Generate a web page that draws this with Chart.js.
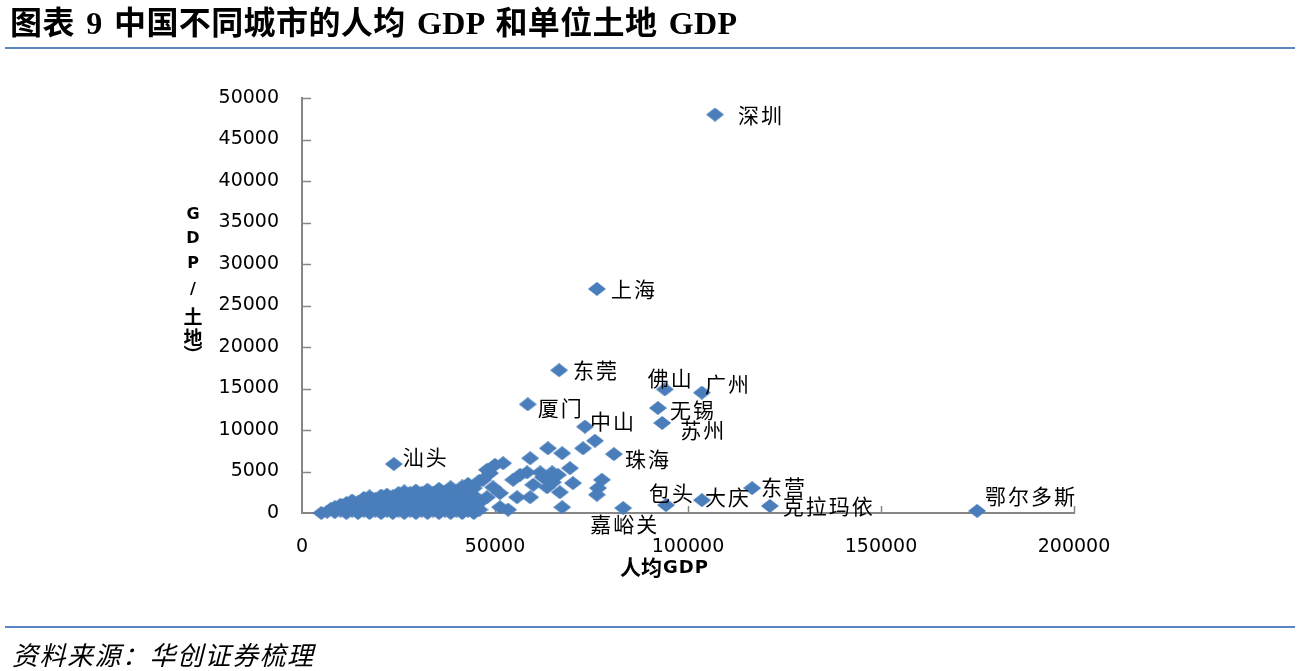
<!DOCTYPE html>
<html><head><meta charset="utf-8">
<script src="https://cdn.jsdelivr.net/npm/chart.js@4.4.0/dist/chart.umd.min.js"></script>
<style>
html,body{margin:0;padding:0;background:#fff;}
#wrap{position:relative;width:1298px;height:671px;overflow:hidden;background:#fff;}
#c{position:absolute;left:0;top:0;}
#title{position:absolute;left:10px;top:5px;font-family:"Liberation Serif","Noto Sans CJK SC";font-weight:bold;font-size:32px;line-height:36px;letter-spacing:0.4px;word-spacing:3px;white-space:nowrap;color:#000;}
.rule{position:absolute;left:5px;width:1290px;height:2px;background:#5A87C0;}
#src{position:absolute;left:12px;top:637px;font-family:"Noto Sans CJK SC";font-style:italic;font-size:26px;line-height:34px;letter-spacing:1.5px;white-space:nowrap;color:#000;}
</style></head>
<body><div id="wrap">
<canvas id="c" width="1298" height="671"></canvas>
<div id="title">图表 9 中国不同城市的人均 GDP 和单位土地 GDP</div>
<div class="rule" style="top:47px"></div>
<div class="rule" style="top:626px"></div>
<div id="src">资料来源：华创证券梳理</div>
</div>
<script>
// ---- data ----
const labeledCities = ['深圳','上海','东莞','厦门','中山','佛山','广州','无锡','苏州','珠海','汕头','包头','大庆','东营','克拉玛依','鄂尔多斯','嘉峪关'];
const labeledGdpPerCapita = [107000, 76400, 66600, 58500, 73300, 94000, 103600, 92200, 93300, 80800, 23800, 94300, 103600, 116600, 121200, 174900, 83200];
const labeledGdpPerLand   = [48000, 27000, 17200, 13100, 10400, 14900, 14500, 12650, 10850, 7100, 5900, 950, 1550, 3000, 850, 250, 600];

const otherGdpPerCapita = [
 5000,6500,7500,8500,8500,10000,10000,11500,11500,11500,13000,13000,13000,14500,14500,14500,
 16000,16000,16000,17500,17500,17500,17500,19000,19000,19000,20500,20500,20500,20500,
 22000,22000,22000,22000,23500,23500,23500,23500,25000,25000,25000,25000,
 26500,26500,26500,26500,26500,28000,28000,28000,28000,29500,29500,29500,29500,29500,
 31000,31000,31000,31000,32500,32500,32500,32500,32500,34000,34000,34000,34000,
 35500,35500,35500,35500,35500,37000,37000,37000,37000,38500,38500,38500,38500,38500,
 40000,40000,40000,40000,41500,41500,41500,41500,41500,43000,43000,43000,43000,43000,
 44500,44500,44500,44500,44500,46000,46000,
 47900,50000,52100,48700,46900,49500,51300,47900,46100,51300,53400,54700,55700,56500,
 58300,59100,59900,59100,61700,62400,63500,63700,64800,65000,66300,66800,67400,67400,
 69400,70200,72800,75900,77700,76700,76400];
const otherGdpPerLand = [
 0,150,500,100,700,300,1000,0,600,1200,300,900,1500,0,600,1300,
 300,1000,1800,0,700,1400,2000,300,1000,1700,0,700,1400,2100,
 300,1000,1700,2200,0,700,1400,2000,300,1000,1700,2400,
 0,700,1400,2100,2600,300,1000,1700,2400,0,700,1400,2100,2700,
 300,1000,1700,2400,0,700,1400,2100,2800,300,1000,1700,2400,
 0,700,1400,2100,2900,300,1000,1700,2500,0,700,1400,2100,3100,
 300,1000,1700,2500,0,700,1400,2200,3200,300,1000,1800,2700,3500,
 0,600,1300,2100,3000,400,3900,
 5200,5800,6000,4800,4000,3100,2400,1900,1300,700,400,4000,1900,4600,
 4900,6600,3400,1900,4900,4300,3100,7800,4900,3700,4600,2500,7200,700,
 5400,3600,7800,8700,4000,3000,2200];

const xTickMin = 0, xTickMax = 200000, xTickStep = 50000;
const yTickMin = 0, yTickMax = 50000, yTickStep = 5000;
const xAxisTitle = ['人均', 'GDP'];
const yAxisTitle = ['G','D','P','/','土','地','︶'];

// ---- layout / style (not data) ----
const labelOffsets = {
 '深圳':[23,0],'上海':[14,0],'东莞':[14,0],'厦门':[10,4],'中山':[5,-6],'佛山':[-17,-11],
 '广州':[3,-9],'无锡':[12,2],'苏州':[18,7],'珠海':[11,5],'汕头':[9,-7],'包头':[-17,-12],
 '大庆':[3,-3],'东营':[9,-1],'克拉玛依':[13,0],'鄂尔多斯':[8,-15],'嘉峪关':[-33,16]
};
const markerColor = '#4A7EBB';
const axisColor = '#868686';

const marker = document.createElement('canvas');
marker.width = 18; marker.height = 14;
(function(){
  const m = marker.getContext('2d');
  m.fillStyle = markerColor;
  m.beginPath(); m.moveTo(0,7); m.lineTo(9,0); m.lineTo(18,7); m.lineTo(9,14); m.closePath(); m.fill();
})();

const toPts = (xs, ys) => xs.map((v,i)=>({x:v, y:ys[i]}));

const overlay = {
  id:'overlay',
  beforeDatasetsDraw(chart){
    const {ctx, chartArea:a, scales:{x,y}} = chart;
    ctx.save();
    ctx.strokeStyle = axisColor; ctx.lineWidth = 1.5;
    y.ticks.forEach(t=>{
      if (t.value===0) return;
      const py = Math.round(y.getPixelForValue(t.value))+0.5;
      ctx.beginPath(); ctx.moveTo(a.left, py); ctx.lineTo(a.left+9, py); ctx.stroke();
    });
    x.ticks.forEach(t=>{
      if (t.value===0) return;
      const px = Math.round(x.getPixelForValue(t.value))+0.5;
      ctx.beginPath(); ctx.moveTo(px, a.bottom); ctx.lineTo(px, a.bottom-7); ctx.stroke();
    });
    ctx.restore();
  },
  afterDatasetsDraw(chart){
    const ctx = chart.ctx;
    const meta = chart.getDatasetMeta(1);
    ctx.save();
    ctx.fillStyle = '#000';
    ctx.font = '21px "Noto Sans CJK SC"';
    ctx.textAlign = 'left'; ctx.textBaseline = 'middle';
    try { ctx.letterSpacing = '2px'; } catch(e) {}
    meta.data.forEach((el,i)=>{
      const name = labeledCities[i];
      const off = labelOffsets[name] || [10,0];
      ctx.fillText(name, el.x + off[0], el.y + off[1]);
    });
    ctx.restore();
  },
  afterDraw(chart){
    const ctx = chart.ctx;
    ctx.save();
    ctx.fillStyle = '#000';
    ctx.textBaseline = 'middle';
    // x axis title
    ctx.textAlign = 'left';
    ctx.font = 'bold 21px "Noto Sans CJK SC"';
    const w1 = ctx.measureText(xAxisTitle[0]).width;
    try { ctx.letterSpacing = '1px'; } catch(e) {}
    ctx.font = 'bold 18px "DejaVu Sans"';
    const w2 = ctx.measureText(xAxisTitle[1]).width;
    let sx = 664 - (w1+w2)/2;
    try { ctx.letterSpacing = '0px'; } catch(e) {}
    ctx.font = 'bold 21px "Noto Sans CJK SC"';
    ctx.fillText(xAxisTitle[0], sx, 567);
    try { ctx.letterSpacing = '1px'; } catch(e) {}
    ctx.font = 'bold 18px "DejaVu Sans"';
    ctx.fillText(xAxisTitle[1], sx + w1 + 1, 568);
    try { ctx.letterSpacing = '0px'; } catch(e) {}
    // y axis title (stacked)
    ctx.textAlign = 'center';
    const ys = [215, 239, 264, 290, 317, 338, 355];
    yAxisTitle.forEach((ch,i)=>{
      ctx.font = /[\u4e00-\u9fff\uff00-\uffef\ufe30-\ufe4f]/.test(ch) ? 'bold 19px "Noto Sans CJK SC"' : 'bold 16px "DejaVu Sans"';
      ctx.fillText(ch, 193, ys[i]);
    });
    ctx.restore();
  }
};

const plainNumber = v => String(v);

new Chart(document.getElementById('c'), {
  type:'scatter',
  data:{ datasets:[
    { data: toPts(otherGdpPerCapita, otherGdpPerLand), pointStyle: marker, pointRadius: 7, clip: false },
    { data: toPts(labeledGdpPerCapita, labeledGdpPerLand), pointStyle: marker, pointRadius: 7, clip: false }
  ]},
  options:{
    responsive:false, animation:false, events:[],
    layout:{ padding:{ left:0, right:224, top:98, bottom:0 } },
    plugins:{ legend:{display:false}, tooltip:{enabled:false}, title:{display:false} },
    scales:{
      x:{ type:'linear', min:xTickMin, max:xTickMax,
          ticks:{ stepSize:xTickStep, callback:plainNumber, color:'#000', font:{family:'"DejaVu Sans"', size:19}, padding:23, maxRotation:0 },
          grid:{ display:true, drawOnChartArea:false, drawTicks:false },
          border:{ display:true, color:axisColor, width:2 },
          afterFit(s){ s.height = 158; } },
      y:{ type:'linear', min:yTickMin, max:yTickMax,
          ticks:{ stepSize:yTickStep, callback:plainNumber, color:'#000', font:{family:'"DejaVu Sans"', size:19}, padding:23 },
          grid:{ display:true, drawOnChartArea:false, drawTicks:false },
          border:{ display:true, color:axisColor, width:2 },
          afterFit(s){ s.width = 302; } }
    }
  },
  plugins:[overlay]
});
</script>
</body></html>
